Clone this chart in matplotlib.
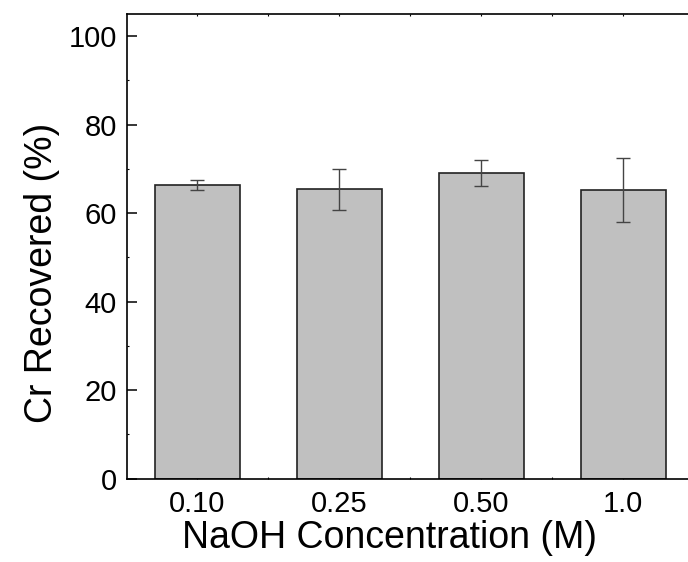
import matplotlib
matplotlib.use("Agg")
import matplotlib.pyplot as plt
from matplotlib.ticker import MultipleLocator, FixedLocator

categories = ["0.10", "0.25", "0.50", "1.0"]
recovered = [66.3, 65.4, 69.0, 65.2]
errors = [1.1, 4.6, 2.9, 7.3]

plt.rcParams['font.family'] = ['Liberation Sans', 'DejaVu Sans']

fig = plt.figure(figsize=(6.88, 5.62), dpi=100)
ax = fig.add_axes([126.5/688, (562-478.5)/562, (694-126.5)/688, (478.5-14)/562])

x = list(range(1, len(categories) + 1))
ax.bar(x, recovered, width=0.6, color='#c0c0c0', edgecolor='#222222', linewidth=1.2, zorder=2)
ax.errorbar(x, recovered, yerr=errors, fmt='none', ecolor='#444444', elinewidth=1.0,
            capsize=5, capthick=1.0, zorder=3)

ax.set_xlim(0.5, 4.5)
ax.set_ylim(0, 105)
ax.set_xticks(x)
ax.set_xticklabels(categories)
ax.xaxis.set_minor_locator(FixedLocator([1.5, 2.5, 3.5]))
ax.yaxis.set_major_locator(MultipleLocator(20))
ax.yaxis.set_minor_locator(MultipleLocator(10))

ax.tick_params(axis='y', which='major', direction='in', length=7, width=1.1, labelsize=21, pad=7,
               right=False)
ax.tick_params(axis='y', which='minor', direction='in', length=1.5, width=0.8, right=False)
ax.tick_params(axis='x', which='both', direction='in', length=1.5, width=0.8, labelsize=21, pad=8,
               top=True)

for s in ax.spines.values():
    s.set_linewidth(1.2)

ax.set_xlabel("NaOH Concentration (M)", fontsize=27)
ax.xaxis.set_label_coords(0.464, -0.089)
ax.set_ylabel("Cr Recovered (%)", fontsize=27)
ax.yaxis.set_label_coords(-0.118, 0.442)

fig.savefig("out.png", dpi=100)
